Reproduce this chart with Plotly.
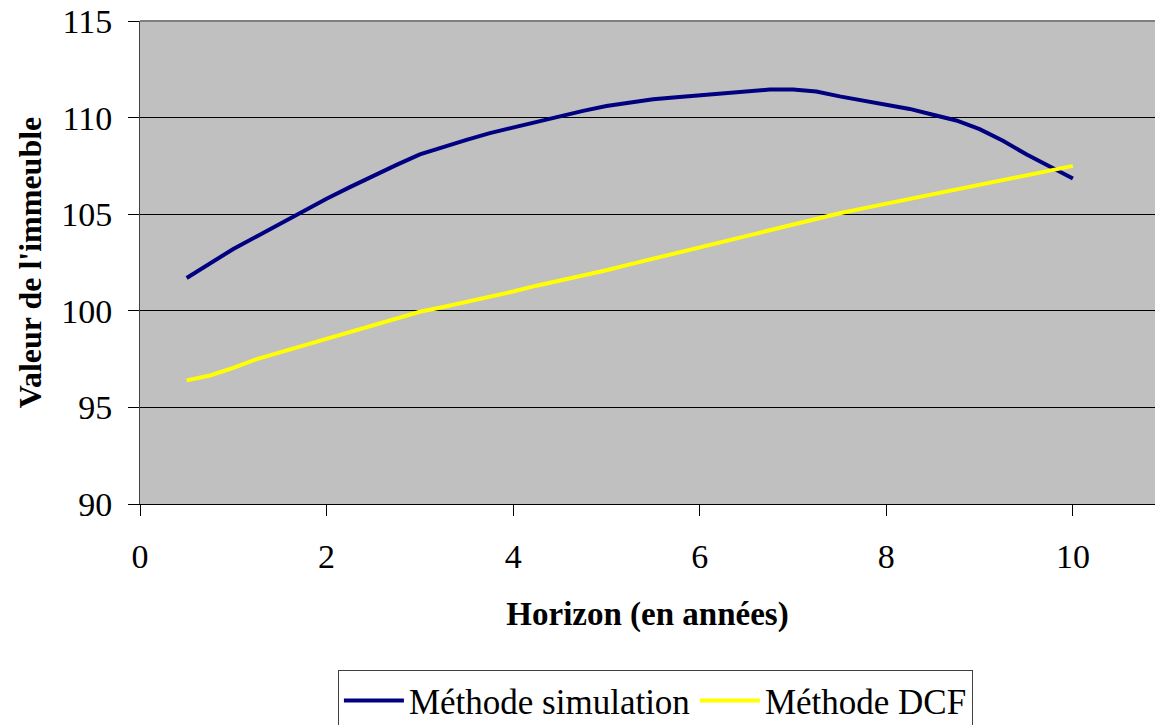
import plotly.graph_objects as go

horizon = [0.5, 0.75, 1.0, 1.25, 1.5, 1.75, 2.0, 2.25, 2.5, 2.75, 3.0, 3.25, 3.5, 3.75,
           4.0, 4.25, 4.5, 4.75, 5.0, 5.25, 5.5, 5.75, 6.0, 6.25, 6.5, 6.75, 7.0, 7.25,
           7.5, 7.75, 8.0, 8.25, 8.5, 8.75, 9.0, 9.25, 9.5, 9.75, 10.0]

simulation = [101.7, 102.45, 103.2, 103.85, 104.5, 105.2, 105.8, 106.4, 107.0, 107.55,
              108.1, 108.5, 108.85, 109.2, 109.5, 109.8, 110.1, 110.35, 110.6, 110.8,
              110.95, 111.05, 111.15, 111.25, 111.35, 111.45, 111.45, 111.35, 111.1, 110.9,
              110.7, 110.45, 110.15, 109.85, 109.4, 108.8, 108.1, 107.45, 106.85]

dcf = [96.4, 96.65, 97.05, 97.5, 97.85, 98.2, 98.55, 98.9, 99.25, 99.6,
       99.95, 100.2, 100.45, 100.75, 101.0, 101.3, 101.55, 101.85, 102.1, 102.4,
       102.7, 103.0, 103.3, 103.55, 103.85, 104.15, 104.45, 104.75, 105.05, 105.3,
       105.55, 105.8, 106.05, 106.3, 106.55, 106.8, 107.05, 107.3, 107.5]

x_ticks = [0, 2, 4, 6, 8, 10]
y_ticks = [90, 95, 100, 105, 110, 115]

FONT = "Liberation Serif, Times New Roman, serif"

fig = go.Figure()
fig.add_trace(go.Scatter(x=horizon, y=simulation, mode="lines", name="Méthode simulation",
                         line=dict(color="#000080", width=4)))
fig.add_trace(go.Scatter(x=horizon, y=dcf, mode="lines", name="Méthode DCF",
                         line=dict(color="#FFFF00", width=4)))

fig.update_layout(
    width=1155, height=725,
    margin=dict(l=140, r=0, t=21, b=221, autoexpand=False),
    paper_bgcolor="white",
    plot_bgcolor="#C0C0C0",
    font=dict(family=FONT, size=34, color="black"),
    showlegend=True,
    legend=dict(orientation="h", x=0.195, xanchor="left", y=-0.344, yanchor="top",
                bordercolor="#404040", borderwidth=1, bgcolor="white",
                font=dict(family=FONT, size=35), itemwidth=60, tracegroupgap=0),
    xaxis=dict(range=[0, 10.88], tickvals=x_ticks, ticks="outside", ticklen=11,
               tickcolor="black", showline=True, linecolor="black", linewidth=1,
               showgrid=False, zeroline=False, ticklabelstandoff=11,
               title=dict(text="<b>Horizon (en années)</b>", font=dict(family=FONT, size=33),
                          standoff=28)),
    yaxis=dict(range=[90, 115], tickvals=y_ticks, ticks="outside", ticklen=11,
               tickcolor="black", showline=True, linecolor="#404040", linewidth=1,
               showgrid=True, gridcolor="black", gridwidth=1, zeroline=False,
               ticklabelstandoff=9,
               title=dict(text="<b>Valeur de l'immeuble</b>", font=dict(family=FONT, size=32),
                          standoff=10)),
)

fig.add_shape(type="line", xref="paper", yref="paper", x0=0, x1=1, y0=1, y1=1,
              line=dict(color="#808080", width=2))

fig.write_html("out.html")
